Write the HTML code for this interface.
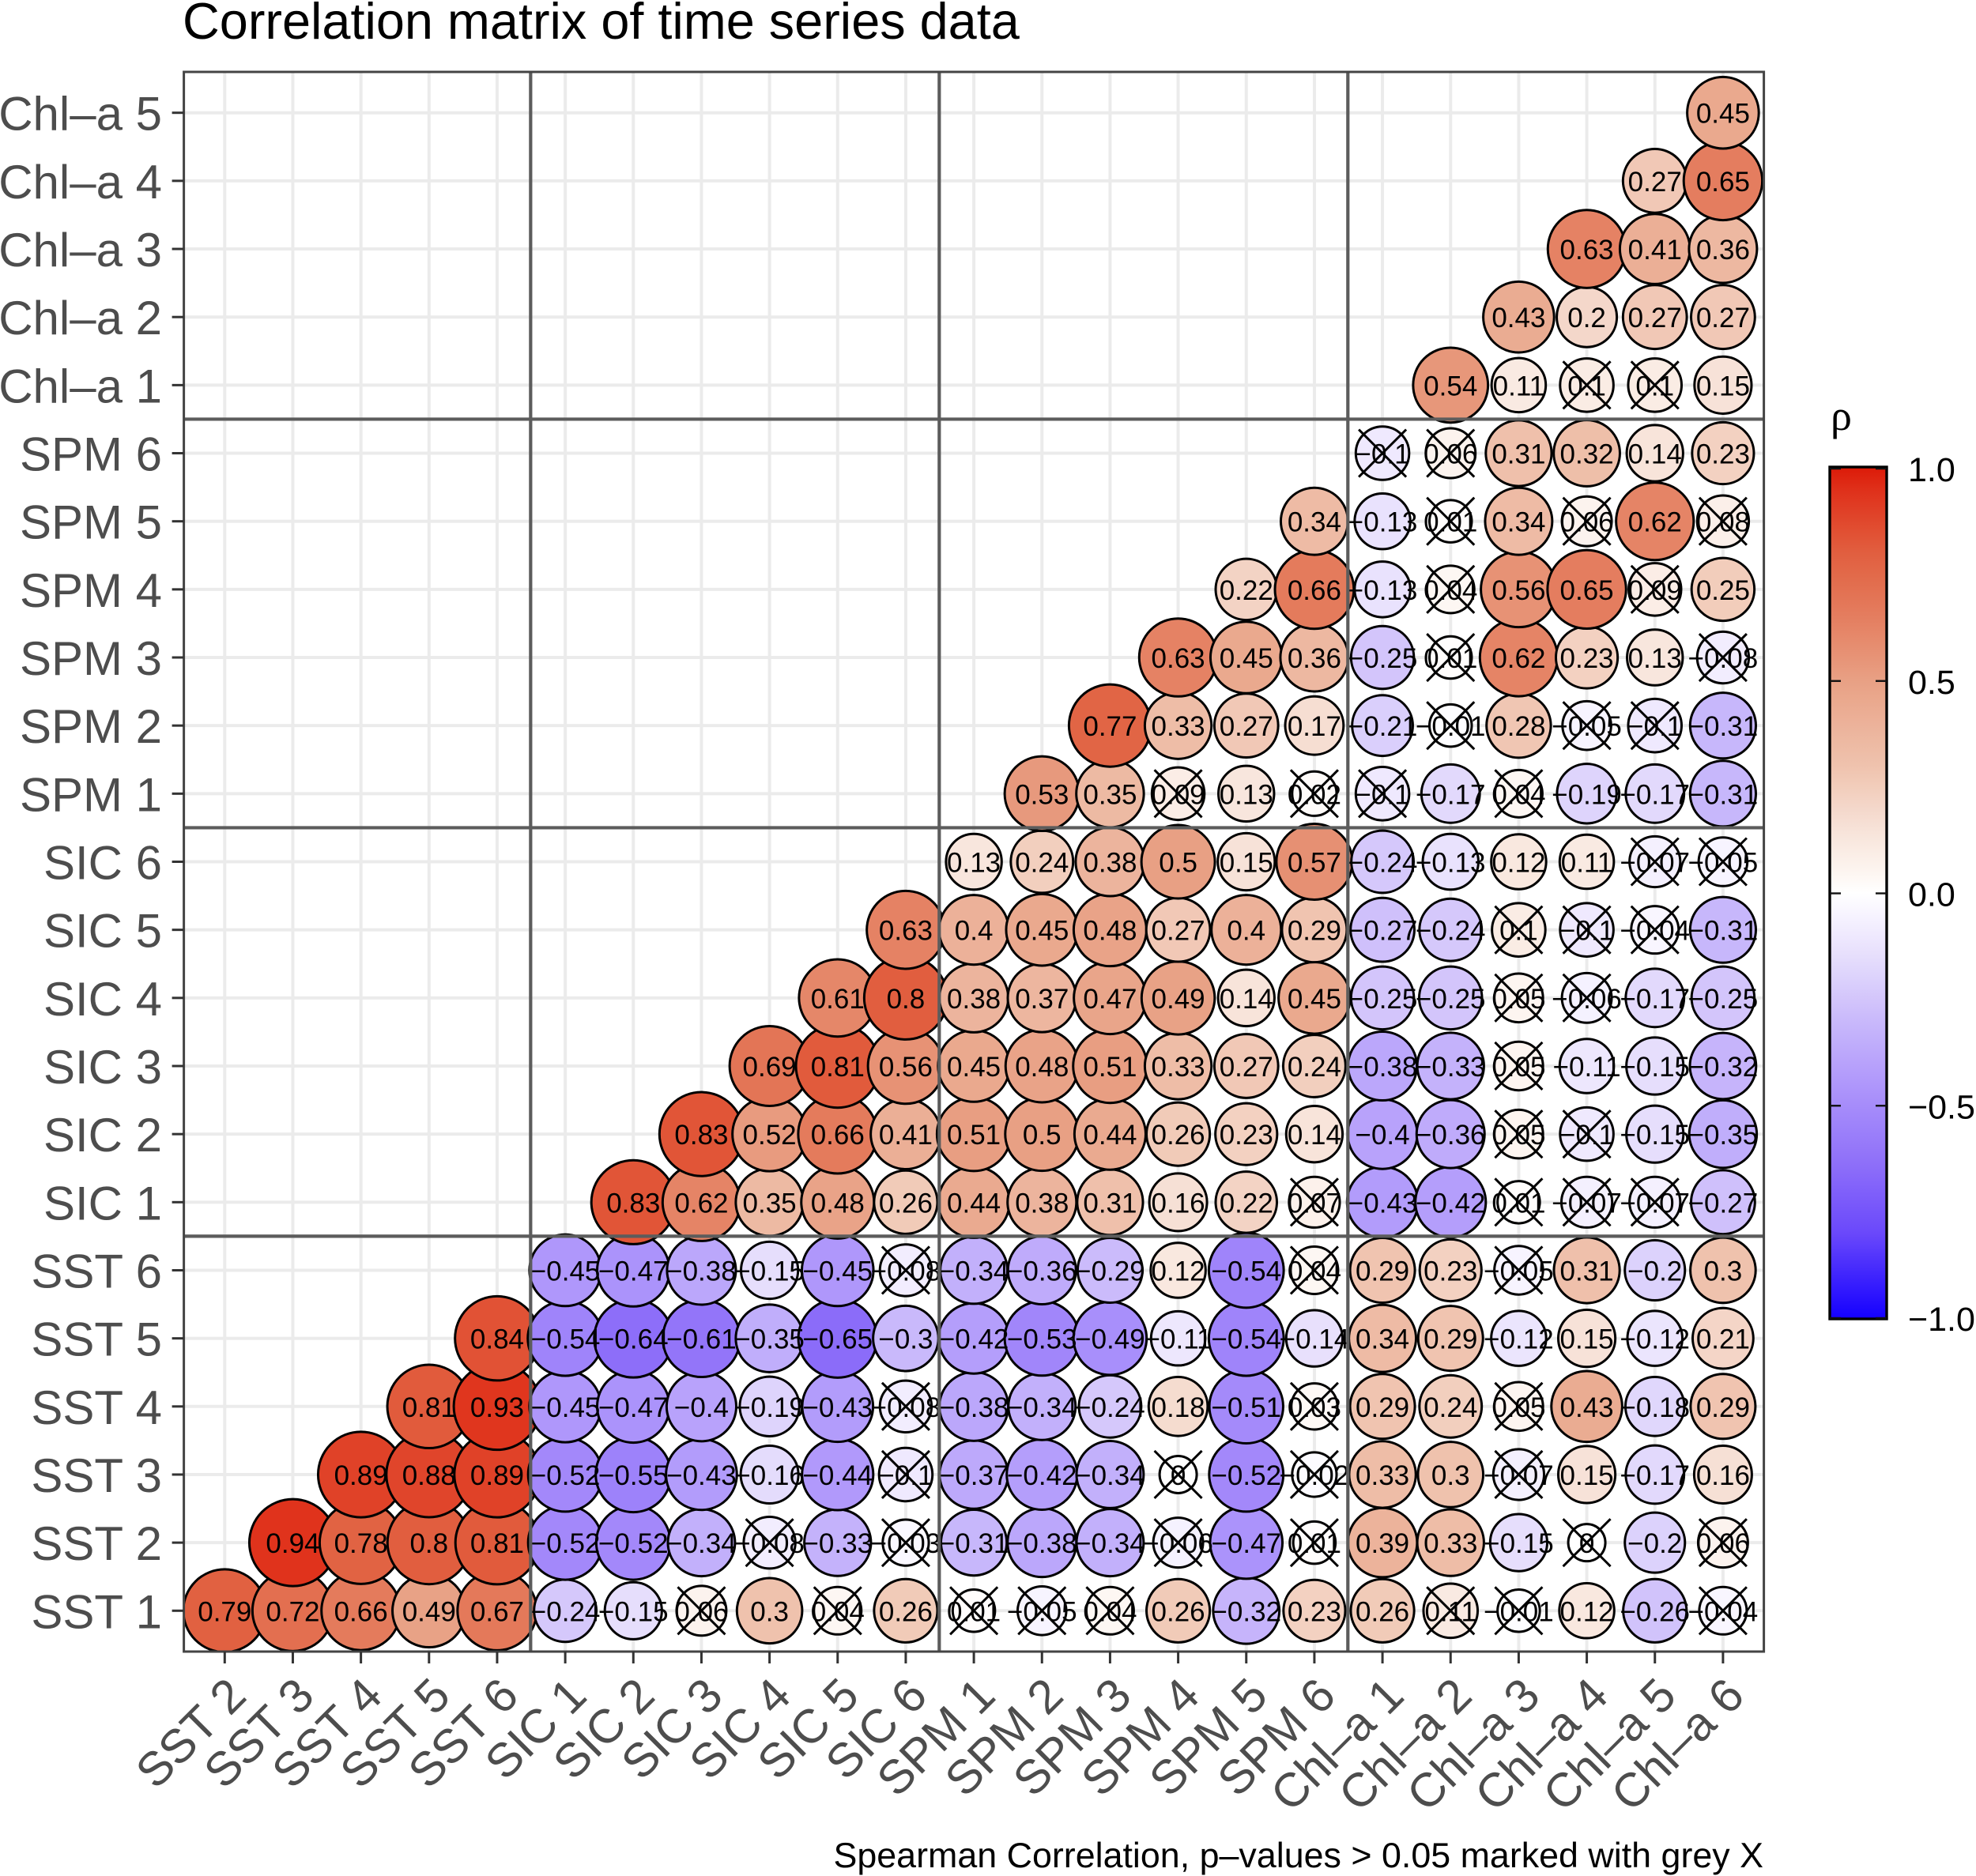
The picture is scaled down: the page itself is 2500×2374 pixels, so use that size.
<!DOCTYPE html>
<html lang="en">
<head>
<meta charset="utf-8">
<title>Correlation matrix of time series data</title>
<style>
html,body{margin:0;padding:0;background:#fff;width:2500px;height:2374px;overflow:hidden}
svg{display:block;font-family:"Liberation Sans",Arial,sans-serif}
</style>
</head>
<body>
<svg id="chart" xmlns="http://www.w3.org/2000/svg" width="2500" height="2374" viewBox="0 0 2500 2374">
  <defs>
    <clipPath id="panel-clip"><rect x="232.6" y="91" width="1999" height="1999"></rect></clipPath>
    <linearGradient id="bar-gradient" x1="0" y1="0" x2="0" y2="1"></linearGradient>
  </defs>
  <rect width="2500" height="2374" fill="#fff"></rect>
  <text x="231" y="49" font-size="64.8" fill="#000">Correlation matrix of time series data</text>
  <text x="2231" y="2363" font-size="44.8" text-anchor="end" fill="#000">Spearman Correlation, p–values &gt; 0.05 marked with grey X</text>
  <text x="2316" y="544" font-size="54" font-family="'Liberation Serif',serif" fill="#000">ρ</text>
</svg>
<script>
// ---- categories ----
const colLabels = ['SST 2','SST 3','SST 4','SST 5','SST 6','SIC 1','SIC 2','SIC 3','SIC 4','SIC 5','SIC 6','SPM 1','SPM 2','SPM 3','SPM 4','SPM 5','SPM 6','Chl–a 1','Chl–a 2','Chl–a 3','Chl–a 4','Chl–a 5','Chl–a 6'];
const rowLabels = ['SST 1','SST 2','SST 3','SST 4','SST 5','SST 6','SIC 1','SIC 2','SIC 3','SIC 4','SIC 5','SIC 6','SPM 1','SPM 2','SPM 3','SPM 4','SPM 5','SPM 6','Chl–a 1','Chl–a 2','Chl–a 3','Chl–a 4','Chl–a 5'];
const legendTicks = [1, 0.5, 0, -0.5, -1];
const legendTickLabels = ['1.0','0.5','0.0','−0.5','−1.0'];

// ---- correlation values: each row ends at the last column, so it starts at (23 - length) ----
const rSST1 = [0.79,0.72,0.66,0.49,0.67,-0.24,-0.15,0.06,0.3,0.04,0.26,0.01,-0.05,0.04,0.26,-0.32,0.23,0.26,0.11,-0.01,0.12,-0.26,-0.04];
const rSST2 = [0.94,0.78,0.8,0.81,-0.52,-0.52,-0.34,-0.08,-0.33,-0.03,-0.31,-0.38,-0.34,-0.06,-0.47,0.01,0.39,0.33,-0.15,0,-0.2,0.06];
const rSST3 = [0.89,0.88,0.89,-0.52,-0.55,-0.43,-0.16,-0.44,-0.1,-0.37,-0.42,-0.34,0,-0.52,-0.02,0.33,0.3,-0.07,0.15,-0.17,0.16];
const rSST4 = [0.81,0.93,-0.45,-0.47,-0.4,-0.19,-0.43,-0.08,-0.38,-0.34,-0.24,0.18,-0.51,0.03,0.29,0.24,0.05,0.43,-0.18,0.29];
const rSST5 = [0.84,-0.54,-0.64,-0.61,-0.35,-0.65,-0.3,-0.42,-0.53,-0.49,-0.11,-0.54,-0.14,0.34,0.29,-0.12,0.15,-0.12,0.21];
const rSST6 = [-0.45,-0.47,-0.38,-0.15,-0.45,-0.08,-0.34,-0.36,-0.29,0.12,-0.54,0.04,0.29,0.23,-0.05,0.31,-0.2,0.3];
const rSIC1 = [0.83,0.62,0.35,0.48,0.26,0.44,0.38,0.31,0.16,0.22,0.07,-0.43,-0.42,0.01,-0.07,-0.07,-0.27];
const rSIC2 = [0.83,0.52,0.66,0.41,0.51,0.5,0.44,0.26,0.23,0.14,-0.4,-0.36,0.05,-0.1,-0.15,-0.35];
const rSIC3 = [0.69,0.81,0.56,0.45,0.48,0.51,0.33,0.27,0.24,-0.38,-0.33,0.05,-0.11,-0.15,-0.32];
const rSIC4 = [0.61,0.8,0.38,0.37,0.47,0.49,0.14,0.45,-0.25,-0.25,0.05,-0.06,-0.17,-0.25];
const rSIC5 = [0.63,0.4,0.45,0.48,0.27,0.4,0.29,-0.27,-0.24,0.1,-0.1,-0.04,-0.31];
const rSIC6 = [0.13,0.24,0.38,0.5,0.15,0.57,-0.24,-0.13,0.12,0.11,-0.07,-0.05];
const rSPM1 = [0.53,0.35,0.09,0.13,0.02,-0.1,-0.17,0.04,-0.19,-0.17,-0.31];
const rSPM2 = [0.77,0.33,0.27,0.17,-0.21,-0.01,0.28,-0.05,-0.1,-0.31];
const rSPM3 = [0.63,0.45,0.36,-0.25,0.01,0.62,0.23,0.13,-0.08];
const rSPM4 = [0.22,0.66,-0.13,0.04,0.56,0.65,0.09,0.25];
const rSPM5 = [0.34,-0.13,0.01,0.34,0.06,0.62,0.08];
const rSPM6 = [-0.1,0.06,0.31,0.32,0.14,0.23];
const rChl1 = [0.54,0.11,0.1,0.1,0.15];
const rChl2 = [0.43,0.2,0.27,0.27];
const rChl3 = [0.63,0.41,0.36];
const rChl4 = [0.27,0.65];
const rChl5 = [0.45];

// ---- non-significant pairs (marked with an X): column labels per row ----
const nsSST1 = ['SIC 3','SIC 5','SPM 1','SPM 2','SPM 3','Chl–a 2','Chl–a 3','Chl–a 6'];
const nsSST2 = ['SIC 4','SIC 6','SPM 4','SPM 6','Chl–a 4','Chl–a 6'];
const nsSST3 = ['SIC 6','SPM 4','SPM 6','Chl–a 3'];
const nsSST4 = ['SIC 6','SPM 6','Chl–a 3'];
const nsSST5 = [];
const nsSST6 = ['SIC 6','SPM 6','Chl–a 3'];
const nsSIC1 = ['SPM 6','Chl–a 3','Chl–a 4','Chl–a 5'];
const nsSIC2 = ['Chl–a 3','Chl–a 4'];
const nsSIC3 = ['Chl–a 3'];
const nsSIC4 = ['Chl–a 3','Chl–a 4'];
const nsSIC5 = ['Chl–a 3','Chl–a 4','Chl–a 5'];
const nsSIC6 = ['Chl–a 5','Chl–a 6'];
const nsSPM1 = ['SPM 4','SPM 6','Chl–a 1','Chl–a 3'];
const nsSPM2 = ['Chl–a 2','Chl–a 4','Chl–a 5'];
const nsSPM3 = ['Chl–a 2','Chl–a 6'];
const nsSPM4 = ['Chl–a 2','Chl–a 5'];
const nsSPM5 = ['Chl–a 2','Chl–a 4','Chl–a 6'];
const nsSPM6 = ['Chl–a 1','Chl–a 2'];
const nsChl1 = ['Chl–a 4','Chl–a 5'];
const nsChl2 = [];
const nsChl3 = [];
const nsChl4 = [];
const nsChl5 = [];

const rowValues = [rSST1,rSST2,rSST3,rSST4,rSST5,rSST6,rSIC1,rSIC2,rSIC3,rSIC4,rSIC5,rSIC6,rSPM1,rSPM2,rSPM3,rSPM4,rSPM5,rSPM6,rChl1,rChl2,rChl3,rChl4,rChl5];
const rowInsig = [nsSST1,nsSST2,nsSST3,nsSST4,nsSST5,nsSST6,nsSIC1,nsSIC2,nsSIC3,nsSIC4,nsSIC5,nsSIC6,nsSPM1,nsSPM2,nsSPM3,nsSPM4,nsSPM5,nsSPM6,nsChl1,nsChl2,nsChl3,nsChl4,nsChl5];
// group boundaries: after this many categories a separator is drawn
const groupBreaksX = [5, 11, 17];
const groupBreaksY = [6, 12, 18];

// ---- layout and scales ----
const svg = document.getElementById('chart');
const NS = 'http://www.w3.org/2000/svg';
const panel = {l:232.6, t:91, r:2231.6, b:2090};
const unit = (panel.r - panel.l) / 23.2;
function xScale(i){ return panel.l + (i + 0.6) * unit; }
function yScale(i){ return panel.b - (i + 0.6) * unit; }
function legendY(v){ return 1130.5 - v * 537.5; }
function diameter(v){ return 50 + 65 * Math.sqrt(Math.abs(v)); }

function el(tag, parent){
  const e = document.createElementNS(NS, tag);
  (parent || svg).appendChild(e);
  return e;
}
function set(e, props){ for (const k in props) e.setAttribute(k, props[k]); return e; }

// Colour ramp (magnitude -> colour) matched to the reference's printed palette
const rampPos = [[0,255,255,255],[0.05,253,245,240],[0.15,247,226,216],[0.3,239,194,173],[0.5,232,160,132],[0.66,228,123,92],[0.79,225,97,65],[0.94,224,51,28],[1,220,26,8]];
const rampNeg = [[0,255,255,255],[0.05,247,244,255],[0.15,230,222,252],[0.3,201,185,251],[0.45,175,151,251],[0.62,145,115,249],[0.8,106,72,251],[1,20,0,255]];
function fillColor(v){
  const ramp = v >= 0 ? rampPos : rampNeg, t = Math.min(1, Math.abs(v));
  for (let i = 1; i < ramp.length; i++) {
    if (t <= ramp[i][0]) {
      const a = ramp[i-1], b = ramp[i], f = (t - a[0]) / (b[0] - a[0]);
      return 'rgb(' + Math.round(a[1]+(b[1]-a[1])*f) + ',' + Math.round(a[2]+(b[2]-a[2])*f) + ',' + Math.round(a[3]+(b[3]-a[3])*f) + ')';
    }
  }
  return 'rgb(255,255,255)';
}

// ---- grid ----
const gridG = el('g');


colLabels.forEach((lab, i) => {
  const g = set(el('line', gridG), {x1:xScale(i), x2:xScale(i), y1:panel.t, y2:panel.b, stroke:'#ebebeb', 'stroke-width':4});
  
  
});
rowLabels.forEach((lab, i) => {
  const g = set(el('line', gridG), {y1:yScale(i), y2:yScale(i), x1:panel.l, x2:panel.r, stroke:'#ebebeb', 'stroke-width':4});
  
  
});

// ---- marks ----
const plotG = set(el('g'), {'clip-path':'url(#panel-clip)'});



const cells = [];
rowValues.forEach((vals, r) => {
  const start = colLabels.length - vals.length;
  vals.forEach((v, k) => {
    const c = start + k;
    cells.push({r:r, c:c, v:v, ns:rowInsig[r].indexOf(colLabels[c]) >= 0});
  });
});
cells.sort((a,b) => a.c - b.c || a.r - b.r);

cells.forEach(d => {
  const dot = set(el('circle', plotG), {cx:xScale(d.c), cy:yScale(d.r), r:(diameter(d.v)-3)/2, fill:fillColor(d.v), stroke:'#000', 'stroke-width':3});
  
  
});
cells.forEach(d => {
  const t = set(el('text', plotG), {x:xScale(d.c), y:yScale(d.r)+13, 'font-size':35, 'text-anchor':'middle', fill:'#000'});
  t.textContent = String(d.v).replace('-', '−');
  
  
});
cells.filter(d => d.ns).forEach(d => {
  const x = xScale(d.c), y = yScale(d.r), h = 30;
  const p = set(el('path', plotG), {d:'M'+(x-h)+' '+(y-h)+'L'+(x+h)+' '+(y+h)+'M'+(x-h)+' '+(y+h)+'L'+(x+h)+' '+(y-h), stroke:'#000', 'stroke-width':3, fill:'none'});
  
  
});

// ---- group separators ----
groupBreaksX.forEach(n => {
  const p = xScale(n - 0.5) - 0.7;
  const l = set(el('line'), {x1:p, x2:p, y1:panel.t, y2:panel.b, stroke:'#5c5c5c', 'stroke-width':4.2});
  
  
});
groupBreaksY.forEach(n => {
  const p = yScale(n - 0.5);
  const l = set(el('line'), {y1:p, y2:p, x1:panel.l, x2:panel.r, stroke:'#5c5c5c', 'stroke-width':4.2});
  
  
});

// ---- panel border ----
const border = set(el('rect'), {x:panel.l, y:panel.t, width:panel.r-panel.l, height:panel.b-panel.t, fill:'none', stroke:'#444', 'stroke-width':3});



// ---- axes ----
colLabels.forEach((lab, i) => {
  const x = xScale(i);
  const tick = set(el('line'), {x1:x, x2:x, y1:panel.b, y2:panel.b+15, stroke:'#333', 'stroke-width':3});
  
  
  const ax = x + 30, ay = 2149;
  const t = set(el('text'), {x:ax, y:ay, 'font-size':60, 'text-anchor':'end', fill:'#4d4d4d', transform:'rotate(-45 '+ax+' '+ay+')'});
  t.textContent = lab;
  
  
});
rowLabels.forEach((lab, i) => {
  const y = yScale(i);
  const tick = set(el('line'), {y1:y, y2:y, x1:panel.l-15, x2:panel.l, stroke:'#333', 'stroke-width':3});
  
  
  const t = set(el('text'), {x:205, y:y+22, 'font-size':60, 'text-anchor':'end', fill:'#4d4d4d'});
  t.textContent = lab;
  
  
});

// ---- colour bar ----
const grad = document.getElementById('bar-gradient');
for (let i = 0; i <= 40; i++) {
  const stop = set(document.createElementNS(NS, 'stop'), {offset:(i/40), 'stop-color':fillColor(1 - i/20)});
  grad.appendChild(stop);
}
const bar = {l:2315, r:2387, t:591, b:1669};
const barRect = set(el('rect'), {x:bar.l, y:bar.t, width:bar.r-bar.l, height:bar.b-bar.t, fill:'url(#bar-gradient)', stroke:'#000', 'stroke-width':3.4});


legendTicks.forEach((v, i) => {
  const y = legendY(v);
  const a = set(el('line'), {x1:bar.l, x2:bar.l+14, y1:y, y2:y, stroke:'#111', 'stroke-width':2.4});
  
  
  const b = set(el('line'), {x1:bar.r-14, x2:bar.r, y1:y, y2:y, stroke:'#111', 'stroke-width':2.4});
  
  
  const t = set(el('text'), {x:2414, y:y+16, 'font-size':43, fill:'#000'});
  t.textContent = legendTickLabels[i];
  
  
});
</script>
</body>
</html>
